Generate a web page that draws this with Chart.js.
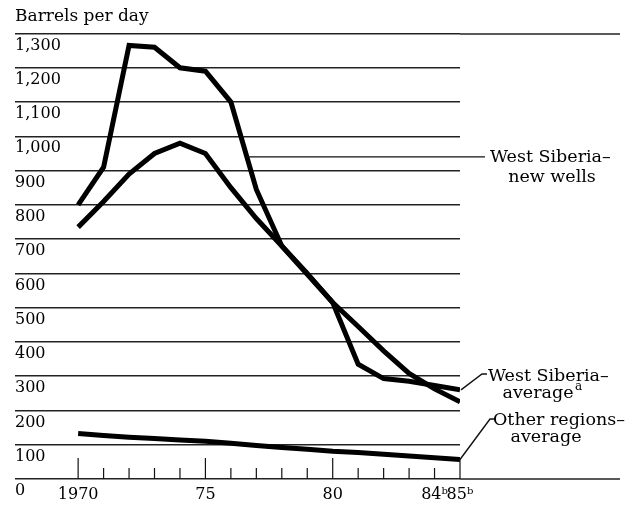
<!DOCTYPE html>
<html>
<head>
<meta charset="utf-8">
<script src="https://cdn.jsdelivr.net/npm/chart.js@4/dist/chart.umd.min.js"></script>
<style>
html,body{margin:0;padding:0;background:#fff;}
#wrap{width:633px;height:506px;}
</style>
</head>
<body>
<div id="wrap"><canvas id="c" width="633" height="506"></canvas></div>
<script>
// ---- data ----
const years = [1970,1971,1972,1973,1974,1975,1976,1977,1978,1979,1980,1981,1982,1983,1984,1985];
const newWells = [800,910,1265,1260,1200,1190,1100,845,680,600,515,335,293,285,273,260];
const wsAverage = [735,810,890,950,980,950,850,760,680,597,515,445,374,308,263,225];
const otherAverage = [133,127,122,118,114,110,104,98,92,87,81,77,72,67,62,57];
const xTickLabels = ['1970','','','','','75','','','','','80','','','','84\u1D47','85\u1D47'];
const majorYears = [1970,1975,1980,1985];
const yTicks = [0,100,200,300,400,500,600,700,800,900,1000,1100,1200,1300];
const yTickLabels = ['0','100','200','300','400','500','600','700','800','900','1,000','1,100','1,200','1,300'];
const yTitle = 'Barrels per day';
const newWellsLabel = ['West Siberia\u2013','new wells'];
const wsAverageLabel = ['West Siberia\u2013','average','a'];
const otherLabel = ['Other regions\u2013','average'];
const newWellsLeaderValue = 940;

const FONT = 'DejaVu Serif';

function pts(vals){ return years.map((yr,i)=>({x:yr,y:vals[i]})); }

const annot = {
  id:'annot',
  afterDraw(chart){
    const {ctx, chartArea:a, scales:{x,y}} = chart;
    const line=(x1,y1,x2,y2)=>{ctx.beginPath();ctx.moveTo(x1,y1);ctx.lineTo(x2,y2);ctx.stroke();};
    ctx.save();
    // extended top and bottom rules
    ctx.strokeStyle='#222'; ctx.lineWidth=1.4;
    [0,1300].forEach(v=>{const py=Math.round(y.getPixelForValue(v));
      line(a.right,py,620,py);});
    // x tick marks rising from the axis
    ctx.strokeStyle='#111'; ctx.lineWidth=1.2;
    years.forEach(v=>{
      const px=x.getPixelForValue(v);
      const len=majorYears.includes(v)?21:11;
      line(px,a.bottom,px,a.bottom-len);
    });
    ctx.fillStyle='#000';
    ctx.font='17.5px "'+FONT+'"';
    ctx.textBaseline='middle';
    // leader: new wells
    const i0=6,i1=7;
    const x0=x.getPixelForValue(years[i0]), y0=y.getPixelForValue(newWells[i0]);
    const x1=x.getPixelForValue(years[i1]), y1=y.getPixelForValue(newWells[i1]);
    const py=y.getPixelForValue(newWellsLeaderValue);
    const t=(py-y0)/(y1-y0);
    const sx=x0+t*(x1-x0);
    ctx.strokeStyle='#111'; ctx.lineWidth=1.4;
    line(sx,py,485,py);
    ctx.textAlign='left';
    ctx.fillText(newWellsLabel[0],490,py+1);
    ctx.textAlign='center';
    ctx.fillText(newWellsLabel[1],552,py+21);
    // leader: West Siberia average
    const e2x=x.getPixelForValue(years[15]), e2y=y.getPixelForValue(newWells[15]);
    ctx.beginPath();ctx.moveTo(487,374);ctx.lineTo(482,374);ctx.lineTo(e2x+1,e2y);ctx.stroke();
    ctx.textAlign='left';
    ctx.fillText(wsAverageLabel[0],488,376);
    ctx.textAlign='center';
    ctx.fillText(wsAverageLabel[1],538,393);
    ctx.font='12px "'+FONT+'"';
    ctx.textAlign='left';
    ctx.fillText(wsAverageLabel[2],575,387);
    // leader: other regions
    ctx.font='17.5px "'+FONT+'"';
    const e3x=x.getPixelForValue(years[15]), e3y=y.getPixelForValue(otherAverage[15]);
    ctx.beginPath();ctx.moveTo(495,419);ctx.lineTo(490,419);ctx.lineTo(e3x,e3y);ctx.stroke();
    ctx.textAlign='left';
    ctx.fillText(otherLabel[0],493,420);
    ctx.textAlign='center';
    ctx.fillText(otherLabel[1],546,437);
    ctx.restore();
  }
};

new Chart(document.getElementById('c'),{
  type:'line',
  data:{datasets:[
    {label:'West Siberia new wells',data:pts(newWells)},
    {label:'West Siberia average',data:pts(wsAverage)},
    {label:'Other regions average',data:pts(otherAverage)}
  ]},
  options:{
    responsive:false,
    animation:false,
    layout:{padding:{left:15,right:173,top:0,bottom:0}},
    elements:{
      point:{radius:0,hoverRadius:0},
      line:{borderWidth:5,borderColor:'#000',tension:0,borderJoinStyle:'miter',borderCapStyle:'butt',fill:false}
    },
    plugins:{
      legend:{display:false},
      tooltip:{enabled:false},
      title:{display:true,text:yTitle,align:'start',color:'#000',
        font:{family:FONT,size:17,weight:'normal'},padding:{top:6,bottom:7.1}}
    },
    scales:{
      x:{type:'linear',min:1967.52,max:1985,
        afterBuildTicks:s=>{s.ticks=years.map(v=>({value:v}));},
        afterFit:s=>{s.height=27;},
        grid:{display:false,drawTicks:false},
        border:{display:false},
        ticks:{autoSkip:false,maxRotation:0,minRotation:0,padding:6,color:'#000',
          font:{family:FONT,size:16},
          callback:(v)=>{const i=years.indexOf(v);return i>=0?xTickLabels[i]:'';}}
      },
      y:{min:0,max:1300,
        afterBuildTicks:s=>{s.ticks=yTicks.map(v=>({value:v}));},
        afterFit:s=>{s.width=0;},
        grid:{color:'#222',lineWidth:1.4,drawTicks:false},
        border:{display:false},
        ticks:{mirror:true,padding:0,labelOffset:12,color:'#000',autoSkip:false,
          font:{family:FONT,size:16},
          callback:(v)=>{const i=yTicks.indexOf(v);return i>=0?yTickLabels[i]:'';}}
      }
    }
  },
  plugins:[annot]
});
</script>
</body>
</html>
